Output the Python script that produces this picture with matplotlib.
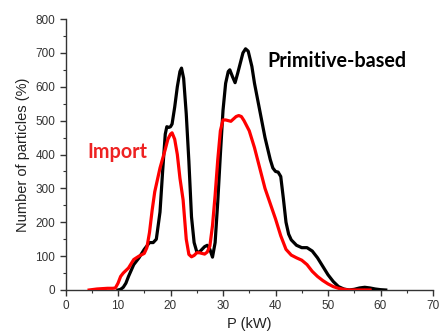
import matplotlib
matplotlib.use("Agg")
import matplotlib.pyplot as plt
from matplotlib.ticker import MultipleLocator

# Primitive-based (black)
prim_p = [10, 10.5, 11, 11.5, 12, 13, 14, 15, 16, 16.7, 17.3, 18, 18.5, 19, 19.3, 19.7, 20, 20.3, 20.8, 21.3, 21.8, 22.1, 22.5,
          23, 23.5, 24, 24.5, 25, 25.5, 26, 26.5, 27, 27.5, 28, 28.5, 29, 29.5, 30, 30.5, 31, 31.3, 31.8, 32.3, 32.8,
          33.3, 33.8, 34.3, 34.8, 35.5, 36, 37, 38, 39, 39.5, 40, 40.5, 41, 41.5, 42, 42.5, 43, 44, 45, 46, 47, 48,
          49, 50, 51, 52, 53, 54, 55, 56, 57, 58, 59, 60, 61]
prim_n = [0, 2, 8, 20, 40, 75, 95, 120, 140, 140, 150, 230, 350, 460, 482, 480, 482, 490, 540, 600, 645, 655, 625,
          520, 380, 216, 140, 113, 112, 120, 128, 132, 120, 97, 140, 260, 400, 530, 610, 645, 650, 630, 612, 640,
          670, 700, 712, 705, 660, 610, 530, 450, 385, 360, 350, 348, 335, 270, 200, 165, 148, 132, 125, 125, 115, 95,
          70, 45, 25, 10, 3, 0, 2, 6, 8, 6, 3, 1, 0]

# Import (red)
imp_p = [4.5, 5, 6, 7, 8, 9, 9.5, 10, 10.5, 11, 12, 13, 14, 15, 15.5, 16, 16.5, 17, 18, 19, 19.5, 20, 20.3, 20.8,
         21.3, 21.8, 22.4, 23, 23.5, 24, 24.5, 25, 25.5, 26, 26.5, 27, 27.5, 28, 28.5, 29, 29.5, 30, 30.5, 31, 31.5,
         32, 32.5, 33, 33.5, 34, 35, 36, 37, 38, 39, 40, 41, 42, 43, 44, 45, 46, 47, 48, 49, 50, 51, 52, 53, 54, 55, 56, 57, 58]
imp_n = [0, 1, 3, 4, 5, 5, 6, 20, 40, 50, 65, 90, 100, 108, 125, 170, 235, 290, 360, 415, 445, 460, 464, 445,
         400, 330, 266, 150, 105, 98, 102, 110, 110, 108, 106, 112, 130, 190, 280, 384, 470, 502, 502, 500, 498,
         505, 512, 515, 512, 500, 470, 420, 360, 300, 255, 210, 160, 120, 103, 95, 88, 75, 55, 40, 28, 18, 10, 5, 2, 0, 0, 0, 0, 0]

x_ticks = [0, 10, 20, 30, 40, 50, 60, 70]
y_ticks = [0, 100, 200, 300, 400, 500, 600, 700, 800]

fig = plt.figure(figsize=(4.41, 3.36), dpi=100)
ax = fig.add_axes([65.5 / 441, 1 - 290 / 336, (433 - 65.5) / 441, (290 - 19) / 336])

ax.plot(prim_p, prim_n, color="black", lw=2.3, solid_joinstyle="round", zorder=3)
ax.plot(imp_p, imp_n, color="#ff0000", lw=2.3, solid_joinstyle="round", zorder=4)

ax.set_xlim(0, 70)
ax.set_ylim(0, 800)
ax.set_xticks(x_ticks)
ax.set_yticks(y_ticks)
ax.xaxis.set_minor_locator(MultipleLocator(5))
ax.yaxis.set_minor_locator(MultipleLocator(50))
for s in ["top", "right"]:
    ax.spines[s].set_visible(False)
for s in ["left", "bottom"]:
    ax.spines[s].set_color("#333333")
    ax.spines[s].set_linewidth(1.0)
ax.tick_params(which="major", direction="out", length=4, width=1, colors="#333333",
               labelsize=8.5, labelcolor="#333333")
ax.tick_params(which="minor", direction="out", length=2.5, width=0.8, colors="#333333")
for lab in ax.get_xticklabels() + ax.get_yticklabels():
    lab.set_family("Liberation Sans")

ax.set_xlabel("P (kW)", family="Liberation Sans", fontsize=10.5, color="#222222", labelpad=3)
ax.set_ylabel("Number of particles (%)", family="Liberation Sans", fontsize=10.5, color="#222222", labelpad=4)

ax.text(51.7, 676, "Primitive-based", family="Lato", weight="bold", fontsize=14.2,
        color="black", ha="center", va="center")
ax.text(9.8, 407, "Import", family="Lato", weight="bold", fontsize=14.2,
        color="#ee2222", ha="center", va="center")

fig.savefig("out.png", dpi=100)
